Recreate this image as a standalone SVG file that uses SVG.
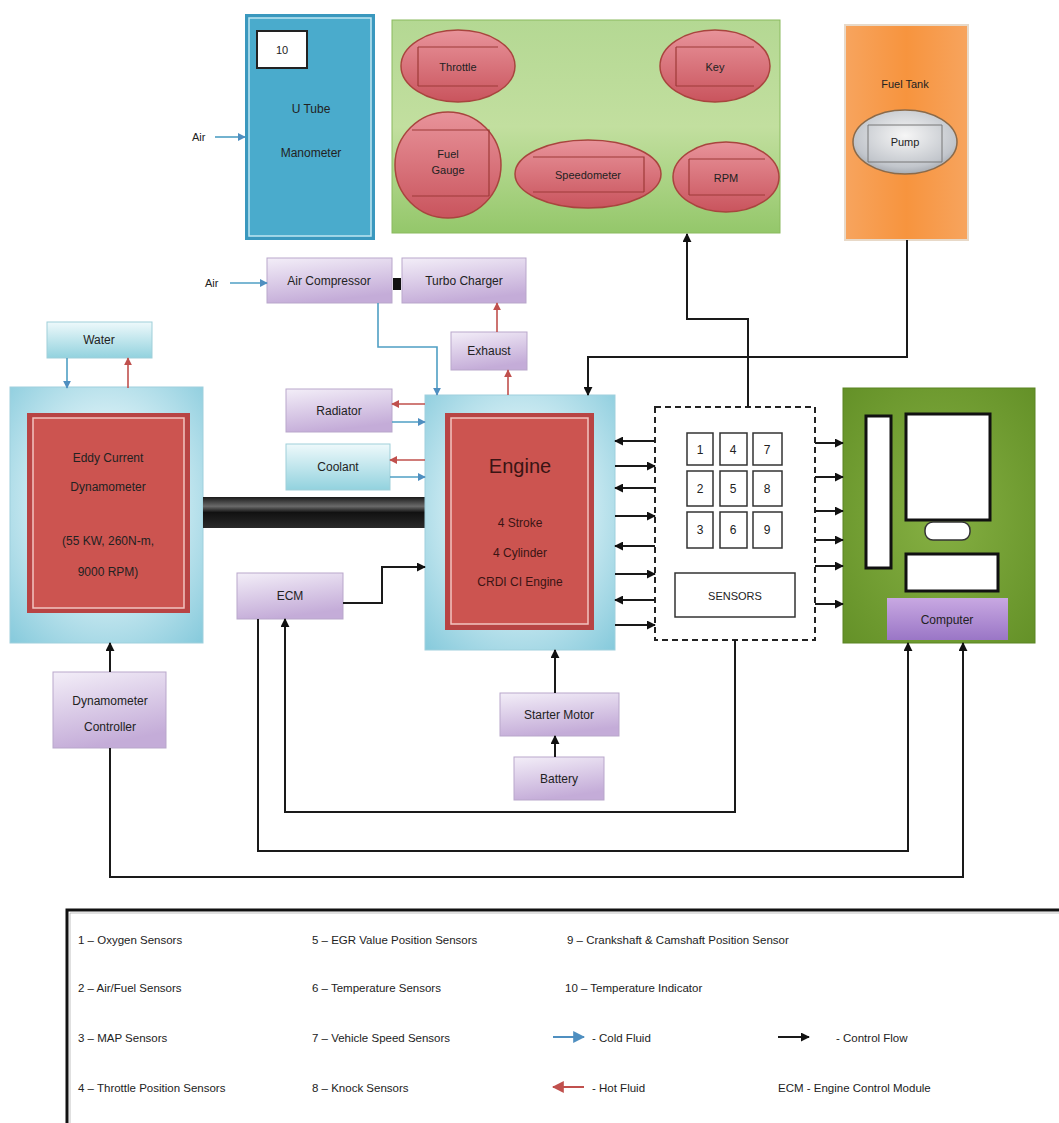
<svg xmlns="http://www.w3.org/2000/svg" width="1059" height="1123" viewBox="0 0 1059 1123">
<defs>
<linearGradient id="gPurple" x1="0" y1="0" x2="0.3" y2="1"><stop offset="0" stop-color="#f3eef8"/><stop offset="1" stop-color="#c4acd8"/></linearGradient>
<linearGradient id="gLBlue" x1="0" y1="0" x2="0" y2="1"><stop offset="0" stop-color="#eef9fb"/><stop offset="1" stop-color="#92d2de"/></linearGradient>
<radialGradient id="gFrame" cx="0.5" cy="0.45" r="0.75"><stop offset="0.3" stop-color="#e4f5f9"/><stop offset="1" stop-color="#84c9db"/></radialGradient>
<linearGradient id="gGreen" x1="0" y1="0" x2="0" y2="1"><stop offset="0" stop-color="#b4d893"/><stop offset="0.5" stop-color="#c2df9f"/><stop offset="1" stop-color="#94c76a"/></linearGradient>
<linearGradient id="gBtn" x1="0" y1="0" x2="0" y2="1"><stop offset="0" stop-color="#e8939a"/><stop offset="1" stop-color="#c9545d"/></linearGradient>
<linearGradient id="gOrange" x1="0" y1="0" x2="1" y2="0"><stop offset="0" stop-color="#f7a45e"/><stop offset="0.5" stop-color="#f7943e"/><stop offset="1" stop-color="#f7a45e"/></linearGradient>
<radialGradient id="gSilver" cx="0.5" cy="0.4" r="0.7"><stop offset="0" stop-color="#f6f6f6"/><stop offset="0.7" stop-color="#c2c6cc"/><stop offset="1" stop-color="#8e949c"/></radialGradient>
<radialGradient id="gComp" cx="0.5" cy="0.5" r="0.75"><stop offset="0" stop-color="#86b043"/><stop offset="1" stop-color="#628f26"/></radialGradient>
<linearGradient id="gCompLbl" x1="0" y1="0" x2="0" y2="1"><stop offset="0" stop-color="#c8a8e2"/><stop offset="1" stop-color="#9a76c6"/></linearGradient>
<linearGradient id="gShaft" x1="0" y1="0" x2="0" y2="1"><stop offset="0" stop-color="#1a1a1a"/><stop offset="0.3" stop-color="#6a6a6a"/><stop offset="0.5" stop-color="#111"/><stop offset="1" stop-color="#2a2a2a"/></linearGradient>
<marker id="mk" viewBox="0 0 10 10" refX="9" refY="5" markerWidth="9" markerHeight="9" markerUnits="userSpaceOnUse" orient="auto"><path d="M0,0 L10,5 L0,10 z" fill="#111"/></marker>
<marker id="mb" viewBox="0 0 10 10" refX="9" refY="5" markerWidth="8" markerHeight="8" markerUnits="userSpaceOnUse" orient="auto"><path d="M0,0 L10,5 L0,10 z" fill="#4f8fc0"/></marker>
<marker id="mr" viewBox="0 0 10 10" refX="9" refY="5" markerWidth="8" markerHeight="8" markerUnits="userSpaceOnUse" orient="auto"><path d="M0,0 L10,5 L0,10 z" fill="#c0504d"/></marker>
<marker id="mbL" viewBox="0 0 10 10" refX="9" refY="5" markerWidth="12" markerHeight="12" markerUnits="userSpaceOnUse" orient="auto"><path d="M0,0 L10,5 L0,10 z" fill="#4f8fc0"/></marker>
<marker id="mrL" viewBox="0 0 10 10" refX="9" refY="5" markerWidth="12" markerHeight="12" markerUnits="userSpaceOnUse" orient="auto"><path d="M0,0 L10,5 L0,10 z" fill="#c0504d"/></marker>
</defs>
<style>
text{font-family:"Liberation Sans",Arial,sans-serif;fill:#222;}
.lbl{font-size:12px;text-anchor:middle;}
.leg{font-size:11.5px;}
.pbox{fill:url(#gPurple);stroke:#b9a7cb;stroke-width:1;}
.lbbox{fill:url(#gLBlue);stroke:#9fcfd9;stroke-width:1;}
.frame{fill:url(#gFrame);stroke:#9fd0dd;stroke-width:1;}
.redo{fill:#b84444;}
.redi{fill:#cc5450;stroke:#f2c4c0;stroke-width:1.5;}
.btn{fill:url(#gBtn);stroke:#a8453e;stroke-width:1.5;}
.btnr{fill:none;stroke:#9e3a38;stroke-width:1.2;}
.ctl{fill:none;stroke:#1a1a1a;stroke-width:2;}
.ctla{fill:none;stroke:#1a1a1a;stroke-width:2;marker-end:url(#mk);}
.cold{fill:none;stroke:#4f9fc4;stroke-width:1.6;marker-end:url(#mb);}
.hot{fill:none;stroke:#c0504d;stroke-width:1.6;marker-end:url(#mr);}
.wht{fill:#fff;stroke:#111;stroke-width:3;}
.sq{fill:#fff;stroke:#333;stroke-width:1.5;}
</style>
<rect width="1059" height="1123" fill="#fff"/>

<g id="manometer">
<rect x="245" y="14" width="130" height="226" fill="#3a98be"/>
<rect x="249" y="18" width="122" height="218" fill="#4aabcc" stroke="#bfe6f2" stroke-width="1.5"/>
<rect x="257" y="31" width="50" height="37" fill="#fff" stroke="#222" stroke-width="2"/>
<text x="282" y="54" class="lbl" style="font-size:11px">10</text>
<text x="311" y="113" class="lbl">U Tube</text>
<text x="311" y="157" class="lbl">Manometer</text>
</g>

<g id="dashboard">
<rect x="392" y="20" width="388" height="213" fill="url(#gGreen)" stroke="#8aba5e" stroke-width="1"/>
<g id="throttle"><ellipse cx="458" cy="66" rx="57" ry="36" class="btn"/><path d="M418,47 H498 M418,86 H498 M418,47 V86" class="btnr"/><text x="458" y="71" class="lbl" style="font-size:11px">Throttle</text></g>
<g id="key"><ellipse cx="715" cy="66" rx="55" ry="36" class="btn"/><path d="M676,47 H754 M676,86 H754 M676,47 V86" class="btnr"/><text x="715" y="71" class="lbl" style="font-size:11px">Key</text></g>
<g id="fuelgauge"><ellipse cx="448" cy="165" rx="53" ry="53" class="btn"/><path d="M412,130 H489 V196 M412,196 H489" class="btnr"/><text x="448" y="158" class="lbl" style="font-size:11px">Fuel</text><text x="448" y="174" class="lbl" style="font-size:11px">Gauge</text></g>
<g id="speedometer"><ellipse cx="588" cy="174" rx="73" ry="34" class="btn"/><path d="M533,157 H644 V192 M533,192 H644" class="btnr"/><text x="588" y="179" class="lbl" style="font-size:11px">Speedometer</text></g>
<g id="rpm"><ellipse cx="726" cy="177" rx="53" ry="35" class="btn"/><path d="M689,159 H765 M689,195 H765 M689,159 V195" class="btnr"/><text x="726" y="182" class="lbl" style="font-size:11px">RPM</text></g>
</g>

<g id="fueltank">
<rect x="845" y="25" width="123" height="215" fill="url(#gOrange)" stroke="#e8d9c8" stroke-width="2"/>
<text x="905" y="88" class="lbl" style="font-size:11px">Fuel Tank</text>
<g id="pump"><ellipse cx="905" cy="142" rx="52" ry="32" fill="url(#gSilver)" stroke="#8a6a4a" stroke-width="1.5"/><path d="M868,125 H942 V162 M868,125 V162 H942" fill="none" stroke="#777" stroke-width="1"/><text x="905" y="146" class="lbl" style="font-size:11px">Pump</text></g>
</g>

<g id="aircompressor"><rect x="267" y="258" width="125" height="45" class="pbox"/><text x="329" y="285" class="lbl">Air Compressor</text></g>
<g id="coupling"><rect x="393" y="278" width="8" height="12" fill="#111"/></g>
<g id="turbocharger"><rect x="402" y="258" width="124" height="45" class="pbox"/><text x="464" y="285" class="lbl">Turbo Charger</text></g>
<g id="exhaust"><rect x="451" y="332" width="76" height="38" class="pbox"/><text x="489" y="355" class="lbl">Exhaust</text></g>

<g id="water"><rect x="47" y="322" width="105" height="36" class="lbbox"/><text x="99" y="344" class="lbl">Water</text></g>

<g id="dynamometer">
<rect x="10" y="387" width="193" height="256" class="frame"/>
<rect x="27" y="413" width="163" height="200" class="redo"/>
<rect x="33" y="418" width="151" height="190" class="redi"/>
<text x="108" y="462" class="lbl">Eddy Current</text>
<text x="108" y="491" class="lbl">Dynamometer</text>
<text x="108" y="545" class="lbl">(55 KW, 260N-m,</text>
<text x="108" y="576" class="lbl">9000 RPM)</text>
</g>

<g id="shaft"><rect x="203" y="497" width="222" height="31" fill="url(#gShaft)"/></g>

<g id="radiator"><rect x="286" y="389" width="106" height="43" class="pbox"/><text x="339" y="415" class="lbl">Radiator</text></g>
<g id="coolant"><rect x="286" y="444" width="104" height="46" class="lbbox"/><text x="338" y="471" class="lbl">Coolant</text></g>

<g id="engine">
<rect x="425" y="395" width="190" height="255" class="frame"/>
<rect x="445" y="413" width="149" height="217" class="redo"/>
<rect x="451" y="418" width="137" height="206" class="redi"/>
<text x="520" y="473" class="lbl" style="font-size:20px;fill:#3a1414">Engine</text>
<text x="520" y="527" class="lbl" style="fill:#3a1414">4 Stroke</text>
<text x="520" y="557" class="lbl" style="fill:#3a1414">4 Cylinder</text>
<text x="520" y="586" class="lbl" style="fill:#3a1414">CRDI CI Engine</text>
</g>

<g id="ecm"><rect x="237" y="573" width="106" height="46" class="pbox"/><text x="290" y="600" class="lbl">ECM</text></g>

<g id="sensors">
<rect x="655" y="407" width="160" height="233" fill="#fff" stroke="#222" stroke-width="2" stroke-dasharray="6,4"/>
<rect x="687" y="433" width="26" height="32" class="sq"/><text x="700" y="454" class="lbl">1</text>
<rect x="720" y="433" width="27" height="32" class="sq"/><text x="733" y="454" class="lbl">4</text>
<rect x="753" y="433" width="29" height="32" class="sq"/><text x="767" y="454" class="lbl">7</text>
<rect x="687" y="471" width="26" height="35" class="sq"/><text x="700" y="493" class="lbl">2</text>
<rect x="720" y="471" width="27" height="35" class="sq"/><text x="733" y="493" class="lbl">5</text>
<rect x="753" y="471" width="29" height="35" class="sq"/><text x="767" y="493" class="lbl">8</text>
<rect x="687" y="512" width="26" height="36" class="sq"/><text x="700" y="534" class="lbl">3</text>
<rect x="720" y="512" width="27" height="36" class="sq"/><text x="733" y="534" class="lbl">6</text>
<rect x="753" y="512" width="29" height="36" class="sq"/><text x="767" y="534" class="lbl">9</text>
<rect x="675" y="573" width="120" height="44" fill="#fff" stroke="#333" stroke-width="1.5"/>
<text x="735" y="600" class="lbl" style="font-size:11px">SENSORS</text>
</g>

<g id="computer">
<rect x="843" y="388" width="192" height="255" fill="url(#gComp)" stroke="#5a8422" stroke-width="1"/>
<rect x="866" y="416" width="25" height="152" class="wht"/>
<rect x="906" y="414" width="84" height="106" class="wht"/>
<rect x="925" y="522" width="45" height="18" rx="8" fill="#fff" stroke="#333" stroke-width="1.5"/>
<rect x="906" y="554" width="92" height="37" class="wht"/>
<rect x="887" y="598" width="121" height="42" fill="url(#gCompLbl)"/>
<text x="947" y="624" class="lbl">Computer</text>
</g>

<g id="dynocontroller"><rect x="53" y="672" width="113" height="76" class="pbox"/><text x="110" y="705" class="lbl">Dynamometer</text><text x="110" y="731" class="lbl">Controller</text></g>
<g id="startermotor"><rect x="500" y="693" width="119" height="43" class="pbox"/><text x="559" y="719" class="lbl">Starter Motor</text></g>
<g id="battery"><rect x="514" y="757" width="90" height="43" class="pbox"/><text x="559" y="783" class="lbl">Battery</text></g>

<g id="connectors">
<text x="192" y="141" style="font-size:11px">Air</text>
<path d="M215,137 H245" class="cold"/>
<text x="205" y="287" style="font-size:11px">Air</text>
<path d="M230,283 H267" class="cold"/>
<path d="M378,303 V347 H437 V395" class="cold"/>
<path d="M67,358 V388" class="cold"/>
<path d="M128,388 V358" class="hot"/>
<path d="M508,395 V370" class="hot"/>
<path d="M497,332 V303" class="hot"/>
<path d="M425,404 H392" class="hot"/>
<path d="M392,422 H425" class="cold"/>
<path d="M425,460 H390" class="hot"/>
<path d="M390,477 H425" class="cold"/>

<path d="M343,603 H382 V567 H425" class="ctla"/>
<path d="M748,407 V319 H687 V234" class="ctla"/>
<path d="M907,240 V357 H588 V395" class="ctla"/>
<path d="M735,640 V812 H285 V619" class="ctla"/>
<path d="M258,619 V851 H908 V643" class="ctla"/>
<path d="M110,748 V877 H963 V643" class="ctla"/>
<path d="M110,672 V643" class="ctla"/>
<path d="M555,693 V650" class="ctla"/>
<path d="M555,757 V736" class="ctla"/>

<path d="M655,441 H615" class="ctla"/>
<path d="M615,466 H655" class="ctla"/>
<path d="M655,488 H615" class="ctla"/>
<path d="M615,516 H655" class="ctla"/>
<path d="M655,546 H615" class="ctla"/>
<path d="M615,574 H655" class="ctla"/>
<path d="M655,600 H615" class="ctla"/>
<path d="M615,625 H655" class="ctla"/>

<path d="M815,443 H843" class="ctla"/>
<path d="M815,477 H843" class="ctla"/>
<path d="M815,511 H843" class="ctla"/>
<path d="M815,540 H843" class="ctla"/>
<path d="M815,566 H843" class="ctla"/>
<path d="M815,604 H843" class="ctla"/>
</g>

<g id="legend">
<path d="M1059,910 H67 V1123" fill="none" stroke="#111" stroke-width="3"/>
<path d="M1059,913 H70 V1123" fill="none" stroke="#999" stroke-width="1" opacity="0.6"/>
<text x="78" y="944" class="leg">1 – Oxygen Sensors</text>
<text x="78" y="992" class="leg">2 – Air/Fuel Sensors</text>
<text x="78" y="1042" class="leg">3 – MAP Sensors</text>
<text x="78" y="1092" class="leg">4 – Throttle Position Sensors</text>
<text x="312" y="944" class="leg">5 – EGR Value Position Sensors</text>
<text x="312" y="992" class="leg">6 – Temperature Sensors</text>
<text x="312" y="1042" class="leg">7 – Vehicle Speed Sensors</text>
<text x="312" y="1092" class="leg">8 – Knock Sensors</text>
<text x="567" y="944" class="leg">9 – Crankshaft &amp; Camshaft Position Sensor</text>
<text x="565" y="992" class="leg">10 – Temperature Indicator</text>
<path d="M553,1037 H584" fill="none" stroke="#4f8fc0" stroke-width="2" marker-end="url(#mbL)"/>
<text x="592" y="1042" class="leg">- Cold Fluid</text>
<path d="M584,1087 H553" fill="none" stroke="#c0504d" stroke-width="2" marker-end="url(#mrL)"/>
<text x="592" y="1092" class="leg">- Hot Fluid</text>
<path d="M778,1037 H809" class="ctla"/>
<text x="836" y="1042" class="leg">- Control Flow</text>
<text x="778" y="1092" class="leg">ECM - Engine Control Module</text>
</g>
</svg>
